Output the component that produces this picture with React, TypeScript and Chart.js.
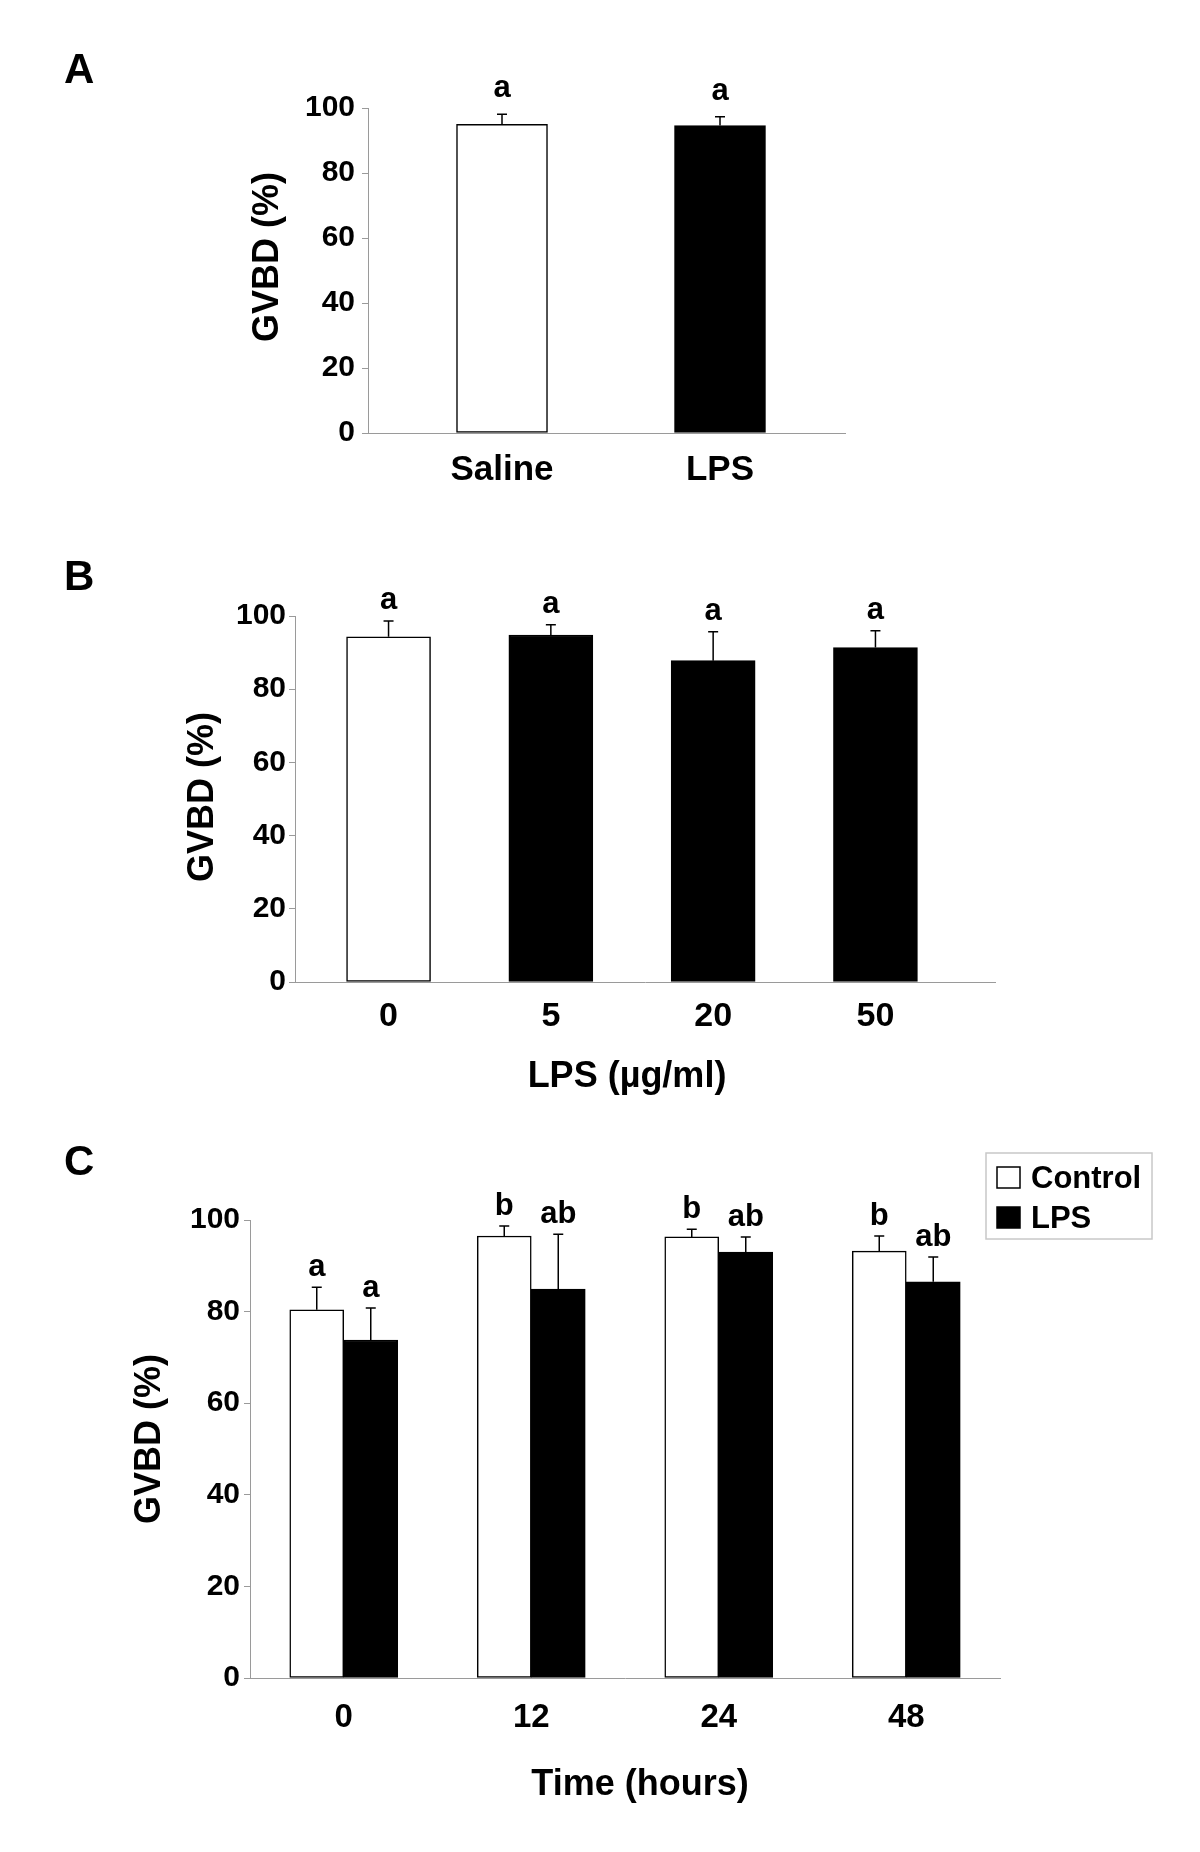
import React, { useEffect, useRef } from "react";
import { Chart, registerables } from "chart.js";

Chart.register(...registerables);

const FONT = "'Liberation Sans', Arial, Helvetica, sans-serif";
const AXIS = "#9a9a9a";

// ---------- Panel A data ----------
const A_CATEGORIES = ["Saline", "LPS"];
const A_MEANS = [95.0, 94.6];
const A_ERRORS = [3.1, 2.7];
const A_LETTERS = ["a", "a"];

// ---------- Panel B data ----------
const B_CATEGORIES = ["0", "5", "20", "50"];
const B_MEANS = [94.3, 94.8, 87.8, 91.4];
const B_ERRORS = [4.3, 2.8, 7.9, 4.6];
const B_LETTERS = ["a", "a", "a", "a"];

// ---------- Panel C data ----------
const C_CATEGORIES = ["0", "12", "24", "48"];
const C_CONTROL = [80.4, 96.5, 96.3, 93.2];
const C_CONTROL_ERR = [4.9, 2.2, 1.7, 3.3];
const C_LPS = [73.8, 84.9, 93.0, 86.5];
const C_LPS_ERR = [7.0, 12.0, 3.3, 5.4];
const C_CONTROL_LETTERS = ["a", "b", "b", "b"];
const C_LPS_LETTERS = ["a", "ab", "ab", "ab"];

const Y_TICKS = [0, 20, 40, 60, 80, 100];
const Y_TITLE = "GVBD (%)";

// ---------- styles ----------
const A_FILLS = ["#ffffff", "#000000"];
const B_FILLS = ["#ffffff", "#000000", "#000000", "#000000"];

type Series = { label: string; values: number[]; errors: number[]; letters: string[]; fill: string | string[] };
type Panel = {
  top: number;
  height: number;
  area: { left: number; right: number; top: number; bottom: number };
  xMin: number;
  xMax: number;
  categories: string[];
  series: Series[];
  barThickness: number;
  catFont: number;
  catPadding: number;
  yPad: number;
  yTitle: { x: number; y: number };
  xTitle?: { text: string; x: number; y: number };
  panelLetter: { text: string; x: number; baseline: number };
  letterGap: number;
  legend?: { left: number; top: number; width: number; height: number };
};

const PANELS: Panel[] = [
  {
    top: 0,
    height: 520,
    area: { left: 368, right: 845, top: 108, bottom: 433 },
    xMin: 0.3853,
    xMax: 2.5734,
    categories: A_CATEGORIES,
    series: [{ label: "A", values: A_MEANS, errors: A_ERRORS, letters: A_LETTERS, fill: A_FILLS }],
    barThickness: 91,
    catFont: 35,
    catPadding: 16,
    yPad: 7,
    yTitle: { x: 268, y: 257 },
    panelLetter: { text: "A", x: 64, baseline: 83 },
    letterGap: 17,
  },
  {
    top: 520,
    height: 600,
    area: { left: 295, right: 995, top: 616, bottom: 982 },
    xMin: 0.4236,
    xMax: 4.7366,
    categories: B_CATEGORIES,
    series: [{ label: "B", values: B_MEANS, errors: B_ERRORS, letters: B_LETTERS, fill: B_FILLS }],
    barThickness: 84,
    catFont: 34,
    catPadding: 14,
    yPad: 3,
    yTitle: { x: 203, y: 797 },
    xTitle: { text: "LPS (µg/ml)", x: 627, y: 1077 },
    panelLetter: { text: "B", x: 64, baseline: 590 },
    letterGap: 12,
  },
  {
    top: 1120,
    height: 732,
    area: { left: 250, right: 1000, top: 1220, bottom: 1678 },
    xMin: 0.5,
    xMax: 4.5,
    categories: C_CATEGORIES,
    series: [
      { label: "Control", values: C_CONTROL, errors: C_CONTROL_ERR, letters: C_CONTROL_LETTERS, fill: "#ffffff" },
      { label: "LPS", values: C_LPS, errors: C_LPS_ERR, letters: C_LPS_LETTERS, fill: "#000000" },
    ],
    barThickness: 54,
    catFont: 33,
    catPadding: 20,
    yPad: 4,
    yTitle: { x: 150, y: 1439 },
    xTitle: { text: "Time (hours)", x: 640, y: 1785 },
    panelLetter: { text: "C", x: 64, baseline: 1175 },
    letterGap: 11,
    legend: { left: 986, top: 1153, width: 166, height: 86 },
  },
];

function makePlugin(p: Panel) {
  return {
    id: "annot" + p.panelLetter.text,
    afterDatasetsDraw(chart: any) {
      const ctx = chart.ctx as CanvasRenderingContext2D;
      const yScale = chart.scales.y;
      ctx.save();
      p.series.forEach((s, di) => {
        const meta = chart.getDatasetMeta(di);
        meta.data.forEach((el: any, i: number) => {
          const x = el.x;
          const yTop = el.y;
          const yErr = yScale.getPixelForValue(s.values[i] + s.errors[i]);
          ctx.strokeStyle = "#000";
          ctx.lineWidth = 1.5;
          ctx.beginPath();
          ctx.moveTo(x, yTop);
          ctx.lineTo(x, yErr);
          ctx.moveTo(x - 5, yErr);
          ctx.lineTo(x + 5, yErr);
          ctx.stroke();
          ctx.fillStyle = "#000";
          ctx.font = `bold 31px ${FONT}`;
          ctx.textAlign = "center";
          ctx.textBaseline = "alphabetic";
          ctx.fillText(s.letters[i], x, yErr - p.letterGap);
        });
      });
      ctx.restore();
    },
    afterDraw(chart: any) {
      const ctx = chart.ctx as CanvasRenderingContext2D;
      const off = p.top;
      ctx.save();
      ctx.fillStyle = "#000";
      // y title
      ctx.font = `bold 36px ${FONT}`;
      ctx.save();
      ctx.translate(p.yTitle.x, p.yTitle.y - off);
      ctx.rotate(-Math.PI / 2);
      ctx.textAlign = "center";
      ctx.textBaseline = "middle";
      ctx.fillText(Y_TITLE, 0, 0);
      ctx.restore();
      // x title
      if (p.xTitle) {
        ctx.font = `bold 36px ${FONT}`;
        ctx.textAlign = "center";
        ctx.textBaseline = "middle";
        ctx.fillText(p.xTitle.text, p.xTitle.x, p.xTitle.y - off);
      }
      // panel letter
      ctx.font = `bold 42px ${FONT}`;
      ctx.textAlign = "left";
      ctx.textBaseline = "alphabetic";
      ctx.fillText(p.panelLetter.text, p.panelLetter.x, p.panelLetter.baseline - off);
      // legend
      if (p.legend) {
        const L = p.legend;
        const top = L.top - off;
        ctx.strokeStyle = "#c8c8c8";
        ctx.lineWidth = 1.5;
        ctx.strokeRect(L.left, top, L.width, L.height);
        chart.data.datasets.forEach((ds: any, i: number) => {
          const sy = top + 14 + i * 40;
          ctx.fillStyle = ds.backgroundColor;
          ctx.fillRect(L.left + 11, sy, 23, 21);
          ctx.strokeStyle = "#000";
          ctx.lineWidth = 1.5;
          ctx.strokeRect(L.left + 11, sy, 23, 21);
          ctx.fillStyle = "#000";
          ctx.font = `bold 31px ${FONT}`;
          ctx.textAlign = "left";
          ctx.textBaseline = "alphabetic";
          ctx.fillText(ds.label, L.left + 45, sy + 21);
        });
      }
      ctx.restore();
    },
  };
}

function PanelChart({ p }: { p: Panel }) {
  const ref = useRef<HTMLCanvasElement>(null);
  useEffect(() => {
    const canvas = ref.current;
    if (!canvas) return;
    const W = 1200;
    const localBottom = p.area.bottom - p.top;
    const chart = new Chart(canvas, {
      type: "bar",
      data: {
        datasets: p.series.map((s) => ({
          label: s.label,
          data: s.values.map((v, i) => ({ x: i + 1, y: v })),
          backgroundColor: s.fill as any,
          borderColor: "#000",
          borderWidth: 1.5,
          borderSkipped: false,
          barThickness: p.barThickness,
        })),
      },
      options: {
        responsive: false,
        animation: false,
        devicePixelRatio: 1,
        layout: { padding: { left: 0, top: p.area.top - p.top, right: W - p.area.right, bottom: 0 } },
        plugins: { legend: { display: false }, tooltip: { enabled: false }, title: { display: false } },
        scales: {
          x: {
            type: "linear",
            min: p.xMin,
            max: p.xMax,
            offset: false,
            afterBuildTicks: (s: any) => {
              s.ticks = p.categories.map((_, i) => ({ value: i + 1 }));
            },
            afterFit: (s: any) => {
              s.height = p.height - localBottom;
            },
            grid: { display: false, drawTicks: false, offset: false },
            border: { display: true, color: AXIS, width: 1 },
            ticks: {
              autoSkip: false,
              maxRotation: 0,
              minRotation: 0,
              padding: p.catPadding,
              color: "#000",
              font: { family: FONT, size: p.catFont, weight: "bold" },
              callback: (v: any) => p.categories[Math.round(Number(v)) - 1] ?? "",
            },
          },
          y: {
            type: "linear",
            min: 0,
            max: 100,
            afterBuildTicks: (s: any) => {
              s.ticks = Y_TICKS.map((v) => ({ value: v }));
            },
            afterFit: (s: any) => {
              s.width = p.area.left;
            },
            grid: { drawOnChartArea: false, drawTicks: true, tickLength: 6, color: AXIS, lineWidth: 1 },
            border: { display: true, color: AXIS, width: 1 },
            ticks: {
              padding: p.yPad,
              color: "#000",
              font: { family: FONT, size: 30, weight: "bold" },
            },
          },
        },
      } as any,
      plugins: [makePlugin(p) as any],
    });
    return () => chart.destroy();
  }, []);
  return (
    <canvas
      ref={ref}
      width={1200}
      height={p.height}
      style={{ position: "absolute", left: 0, top: p.top, width: 1200, height: p.height, display: "block" }}
    />
  );
}

export default function App() {
  return (
    <div style={{ position: "absolute", left: 0, top: 0, width: 1200, height: 1852, background: "#fff", overflow: "hidden" }}>
      {PANELS.map((p) => (
        <PanelChart key={p.panelLetter.text} p={p} />
      ))}
    </div>
  );
}
